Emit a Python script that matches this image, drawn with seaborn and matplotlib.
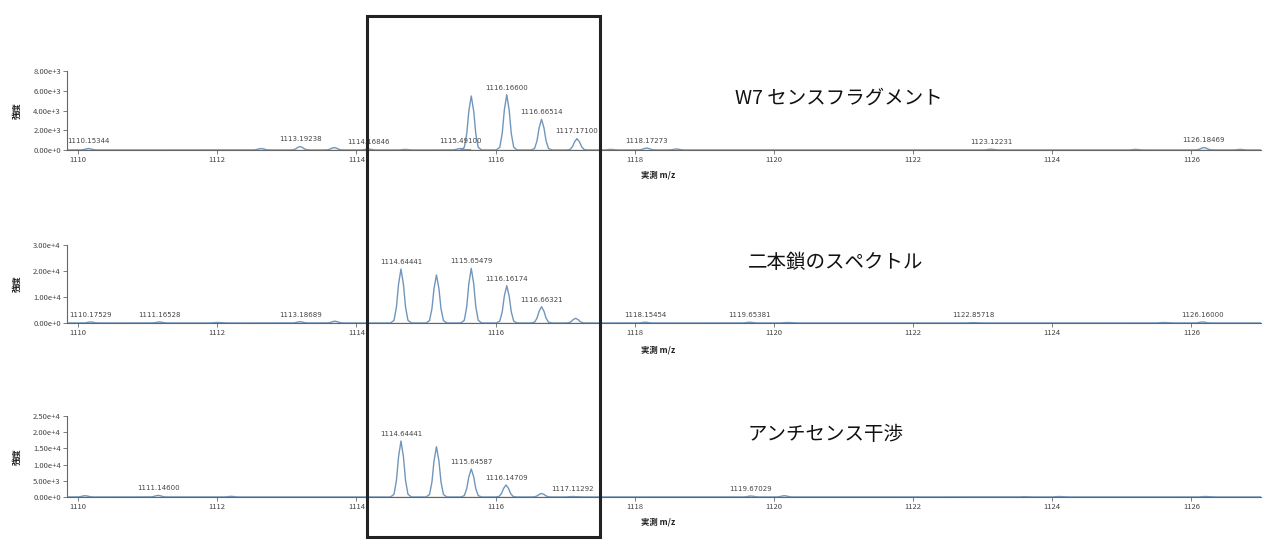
import numpy as np
import pandas as pd
import matplotlib
matplotlib.use("Agg")
import matplotlib.pyplot as plt
from matplotlib.ticker import FuncFormatter, MultipleLocator
from matplotlib.patches import Rectangle
import seaborn as sns

sns.set_theme(style="white")
plt.rcParams['font.family'] = ['Noto Sans CJK JP', 'DejaVu Sans']

# ---------------- data ----------------
titles = ["W7 センスフラグメント", "二本鎖のスペクトル", "アンチセンス干渉"]
y_max = [8000, 30000, 25000]
y_step = [2000, 10000, 5000]

# peak centroids (m/z) and apex intensities per panel
p1_mz = [1110.15, 1112.63, 1113.19, 1113.68, 1114.17, 1114.70, 1115.49, 1115.65,
         1116.16, 1116.66, 1117.17, 1117.66, 1118.17, 1118.60, 1123.12, 1125.20,
         1126.18, 1126.70]
p1_int = [150, 150, 350, 250, 100, 60, 150, 5470,
          5600, 3110, 1150, 60, 200, 100, 80, 60,
          250, 60]

p2_mz = [1110.18, 1111.17, 1112.00, 1113.19, 1113.69, 1114.64, 1115.15, 1115.65,
         1116.16, 1116.66, 1117.15, 1118.15, 1119.65, 1120.20, 1122.86, 1125.60,
         1126.16]
p2_int = [400, 400, 200, 500, 700, 20770, 18460, 21000,
          14350, 6270, 1800, 300, 300, 200, 150, 200,
          400]

p3_mz = [1110.10, 1111.15, 1112.20, 1114.64, 1115.15, 1115.65, 1116.15, 1116.66,
         1117.11, 1119.67, 1120.15, 1123.60, 1124.10, 1126.20]
p3_int = [400, 500, 200, 17280, 15520, 8640, 3700, 1100,
          150, 300, 400, 100, 150, 150]

# annotated peaks (label text, m/z, intensity)
lab1_txt = ["1110.15344", "1113.19238", "1114.16846", "1115.49100", "1116.16600",
            "1116.66514", "1117.17100", "1118.17273", "1123.12231", "1126.18469"]
lab1_mz = [1110.15, 1113.19, 1114.17, 1115.49, 1116.16, 1116.66, 1117.17, 1118.17,
           1123.12, 1126.18]
lab1_int = [150, 350, 100, 150, 5600, 3110, 1150, 200, 80, 250]

lab2_txt = ["1110.17529", "1111.16528", "1113.18689", "1114.64441", "1115.65479",
            "1116.16174", "1116.66321", "1118.15454", "1119.65381", "1122.85718",
            "1126.16000"]
lab2_mz = [1110.18, 1111.17, 1113.19, 1114.64, 1115.65, 1116.16, 1116.66, 1118.15,
           1119.65, 1122.86, 1126.16]
lab2_int = [400, 400, 500, 20770, 21000, 14350, 6270, 300, 300, 150, 400]

lab3_txt = ["1111.14600", "1114.64441", "1115.64587", "1116.14709", "1117.11292",
            "1119.67029"]
lab3_mz = [1111.15, 1114.64, 1115.65, 1116.15, 1117.11, 1119.67]
lab3_int = [500, 17280, 8640, 3700, 150, 300]

# peak profile shape (offset in m/z, fraction of apex)
shape_dx = [-0.15, -0.10, -0.065, -0.035, 0.0, 0.035, 0.065, 0.10, 0.15]
shape_rel = [0.0, 0.05, 0.3, 0.72, 1.0, 0.72, 0.3, 0.05, 0.0]

x_ticks = [1110, 1112, 1114, 1116, 1118, 1120, 1122, 1124, 1126]
x_range = [1109.84, 1127.0]

panels = [
    (p1_mz, p1_int, lab1_txt, lab1_mz, lab1_int),
    (p2_mz, p2_int, lab2_txt, lab2_mz, lab2_int),
    (p3_mz, p3_int, lab3_txt, lab3_mz, lab3_int),
]


def build_profile(mz, inten):
    xs = [x_range[0]]
    ys = [0.0]
    for c, h in sorted(zip(mz, inten)):
        for dx, r in zip(shape_dx, shape_rel):
            xs.append(c + dx)
            ys.append(h * r)
    xs.append(x_range[1])
    ys.append(0.0)
    return pd.DataFrame({"mz": xs, "intensity": ys})


def sci(v, pos):
    s = "%.2e" % v
    m, e = s.split("e")
    return f"{m}e{int(e):+d}"


W, H = 1280, 558
fig = plt.figure(figsize=(W / 100, H / 100), dpi=100)

# axes rectangles in pixels: (left, top, right, bottom)
boxes = [(67, 71, 1261, 150), (67, 245, 1261, 323), (67, 416, 1261, 497)]
title_pos = [(735, 98), (748, 262), (748, 434)]
xlabel_y = [175, 350, 522]

line_color = "#7096bb"
axis_color = "#666666"
text_color = "#444444"

for i, (mz, inten, ltxt, lmz, lint) in enumerate(panels):
    l, t, r, b = boxes[i]
    ax = fig.add_axes([l / W, 1 - b / H, (r - l) / W, (b - t) / H])
    df = build_profile(mz, inten)
    sns.lineplot(data=df, x="mz", y="intensity", ax=ax, color=line_color,
                 linewidth=1.0, estimator=None, sort=False)
    ax.axhline(0, color=axis_color, linewidth=0.9, zorder=1)
    ax.set_xlim(*x_range)
    ax.set_ylim(0, y_max[i])
    ax.set_xticks(x_ticks)
    ax.yaxis.set_major_locator(MultipleLocator(y_step[i]))
    ax.yaxis.set_major_formatter(FuncFormatter(sci))
    ax.set_xlabel("")
    ax.set_ylabel("")
    for sp in ["top", "right"]:
        ax.spines[sp].set_visible(False)
    for sp in ["left", "bottom"]:
        ax.spines[sp].set_color(axis_color)
        ax.spines[sp].set_linewidth(0.8)
    ax.tick_params(axis="both", which="major", labelsize=5.5, colors=axis_color,
                   labelcolor=text_color, length=3, width=0.6, pad=1.5,
                   left=True, bottom=True)
    ax.patch.set_alpha(0)
    for txt, x, y in zip(ltxt, lmz, lint):
        ax.annotate(txt, (x, y), xytext=(0, 3), textcoords="offset points",
                    ha="center", va="bottom", fontsize=5, color=text_color,
                    family=["DejaVu Sans"])
    # panel title
    tx, ty = title_pos[i]
    fig.text(tx / W, 1 - ty / H, titles[i], fontsize=14, color="#111111",
             ha="left", va="center")
    # y label
    fig.text(17 / W, 1 - ((t + b) / 2) / H, "強度", rotation=90, fontsize=6,
             color="#222222", ha="center", va="center", fontweight="bold")
    # x label
    fig.text(641 / W, 1 - xlabel_y[i] / H, "実測 m/z", fontsize=6,
             color="#222222", ha="left", va="center", fontweight="bold")

# highlight box
fig.patches.append(Rectangle((367 / W, 1 - 537 / H), (600 - 367) / W,
                             (537 - 16) / H, transform=fig.transFigure,
                             fill=False, edgecolor="#222222", linewidth=2.2,
                             zorder=10))

fig.savefig("out.png", dpi=100, facecolor="white")
